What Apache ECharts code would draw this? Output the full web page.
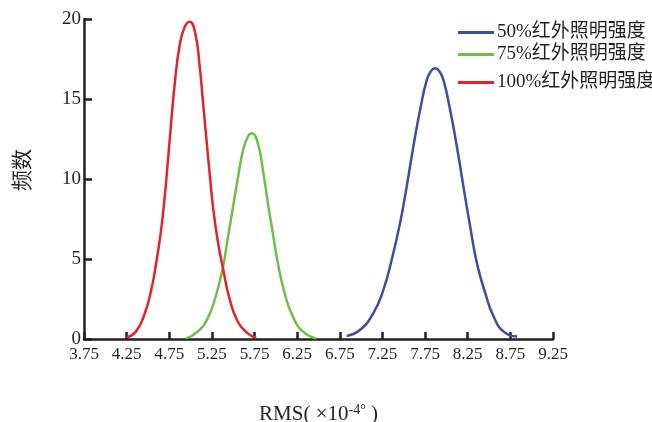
<!DOCTYPE html>
<html>
<head>
<meta charset="utf-8">
<script src="https://cdn.jsdelivr.net/npm/echarts@6/dist/echarts.min.js"></script>
<style>html,body{margin:0;padding:0;background:#fff;}#c{width:652px;height:422px;}</style>
</head>
<body>
<div id="c"></div>
<script>
var seriesNames = ['50%红外照明强度', '75%红外照明强度', '100%红外照明强度'];
var xTicks = [3.75, 4.25, 4.75, 5.25, 5.75, 6.25, 6.75, 7.25, 7.75, 8.25, 8.75, 9.25];
var yTicks = [0, 5, 10, 15, 20];

var blueX = [6.83, 6.985, 7.142, 7.26, 7.358, 7.456, 7.534, 7.612, 7.691, 7.77, 7.82, 7.868, 7.915, 7.965, 8.044, 8.123, 8.2, 8.279, 8.358, 8.456, 8.554, 8.671, 8.829];
var blueY = [0.19, 0.56, 1.6, 3.06, 4.94, 7.23, 9.52, 12.02, 14.31, 16.19, 16.75, 16.92, 16.75, 16.19, 14.31, 12.02, 9.52, 7.02, 4.73, 2.86, 1.4, 0.46, 0.15];

var greenX = [4.946, 5.083, 5.2, 5.299, 5.377, 5.436, 5.495, 5.554, 5.612, 5.671, 5.72, 5.789, 5.848, 5.907, 5.965, 6.024, 6.103, 6.2, 6.318, 6.476];
var greenY = [0.04, 0.46, 1.29, 2.75, 4.42, 6.29, 8.17, 10.04, 11.71, 12.64, 12.86, 12.23, 10.56, 8.48, 6.6, 4.73, 2.86, 1.4, 0.46, 0.04];

var redX = [4.25, 4.358, 4.456, 4.534, 4.593, 4.652, 4.691, 4.73, 4.77, 4.815, 4.87, 4.93, 4.99, 5.055, 5.105, 5.145, 5.185, 5.225, 5.265, 5.32, 5.38, 5.456, 5.554, 5.671, 5.77];
var redY = [0.1, 0.46, 1.5, 2.96, 4.62, 6.71, 8.58, 10.88, 13.38, 16.0, 18.3, 19.5, 19.83, 19.1, 17.13, 14.83, 12.54, 10.25, 8.17, 6.08, 4.42, 2.54, 1.08, 0.35, 0.06];

function zip(xs, ys) { return xs.map(function (x, i) { return [x, ys[i]]; }); }

var FONT = "'Liberation Serif', 'Noto Sans CJK SC', serif";
var INK = '#231f20';
var colors = ['#3d4ca5', '#6cc04a', '#e3232c'];

function mkLegend(name, top) {
  return {
    data: [name], left: 458, top: top, icon: 'rect', itemWidth: 36, itemHeight: 3,
    padding: 0, itemGap: 0,
    textStyle: { fontSize: 19, color: INK, fontFamily: FONT, padding: [0, 0, 0, -2] }
  };
}

var chart = echarts.init(document.getElementById('c'), null, { renderer: 'canvas' });
chart.setOption({
  animation: false,
  color: colors,
  textStyle: { fontFamily: FONT },
  legend: [mkLegend(seriesNames[0], 23), mkLegend(seriesNames[1], 45), mkLegend(seriesNames[2], 73)],
  grid: { left: 84, right: 99, top: 19, bottom: 83, containLabel: false, outerBoundsMode: 'none' },
  xAxis: {
    type: 'value', min: 3.75, max: 9.25,
    name: '{b|RMS( ×10}{s|-4°}{b| )}',
    nameLocation: 'middle', nameGap: 64,
    nameTextStyle: {
      rich: {
        b: { fontSize: 21, color: INK, fontFamily: FONT },
        s: { fontSize: 14, color: INK, fontFamily: FONT, verticalAlign: 'top', padding: [0, 0, 8, 0] }
      }
    },
    axisLine: { lineStyle: { color: INK, width: 2.5 } },
    axisTick: { inside: true, length: 7, lineStyle: { color: INK, width: 2.5 }, customValues: xTicks },
    axisLabel: { customValues: xTicks, fontSize: 17, color: INK, fontFamily: FONT, margin: 7, formatter: function (v) { return v.toFixed(2); } },
    splitLine: { show: false }
  },
  yAxis: {
    type: 'value', min: 0, max: 20, interval: 5,
    name: '频数', nameLocation: 'middle', nameGap: 50, nameRotate: 90,
    nameTextStyle: { fontSize: 21, color: INK, fontFamily: FONT, padding: [0, 0, 0, 18] },
    axisLine: { show: true, lineStyle: { color: INK, width: 2.5 } },
    axisTick: { show: true, inside: true, length: 8, lineStyle: { color: INK, width: 2.5 } },
    axisLabel: { fontSize: 19, color: INK, fontFamily: FONT, margin: 3 },
    splitLine: { show: false }
  },
  series: [
    { name: seriesNames[0], type: 'line', data: zip(blueX, blueY), smooth: 0.5, showSymbol: false, lineStyle: { width: 2.5, color: colors[0] } },
    { name: seriesNames[1], type: 'line', data: zip(greenX, greenY), smooth: 0.5, showSymbol: false, lineStyle: { width: 2.5, color: colors[1] } },
    { name: seriesNames[2], type: 'line', data: zip(redX, redY), smooth: 0.5, showSymbol: false, lineStyle: { width: 2.5, color: colors[2] } }
  ]
});
</script>
</body>
</html>
